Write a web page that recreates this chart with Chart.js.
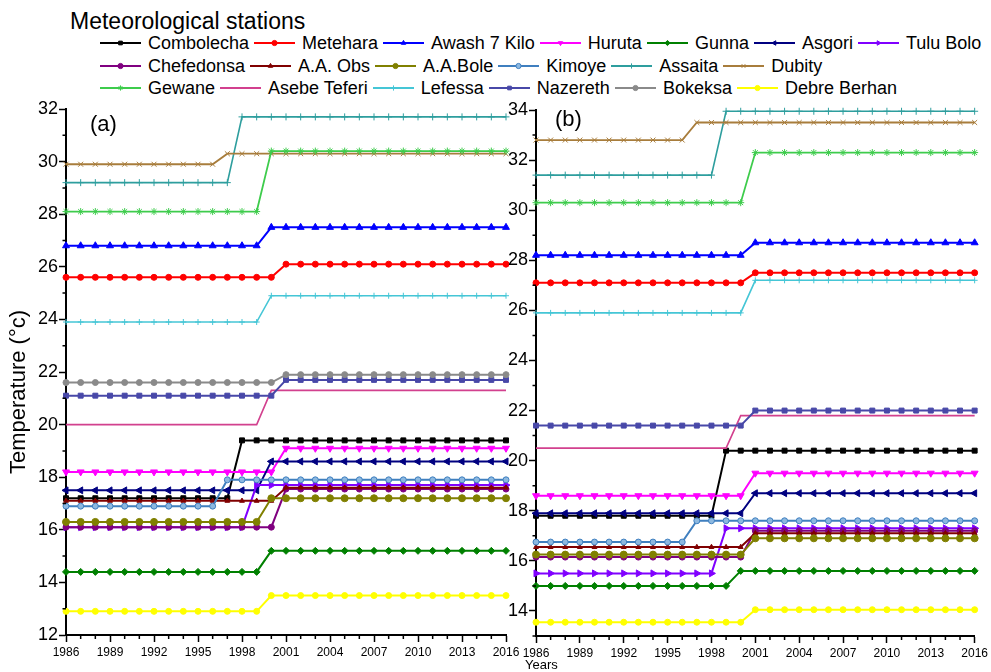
<!DOCTYPE html>
<html>
<head>
<meta charset="utf-8">
<script src="https://cdn.jsdelivr.net/npm/chart.js@4.4.0/dist/chart.umd.min.js"></script>
<style>
  html, body { margin: 0; padding: 0; background: #fff; }
  body { width: 991px; height: 672px; position: relative; overflow: hidden;
         font-family: "Liberation Sans", Arial, sans-serif; color: #000; }
  #legendTitle { position: absolute; left: 70px; top: 10px; font-size: 23px; line-height: 23px; white-space: nowrap; }
  .lrow { position: absolute; left: 100px; display: flex; align-items: center; height: 22.5px;
          font-size: 18px; line-height: 22.5px; white-space: nowrap; }
  .litem { display: flex; align-items: center; margin-right: 5px; }
  .litem canvas { margin-right: 7px; display: block; }
  #chartA { position: absolute; left: 0; top: 0; }
  #chartB { position: absolute; left: 500px; top: 0; }
</style>
</head>
<body>
<div id="legendTitle">Meteorological stations</div>
<div id="legend"></div>
<canvas id="chartA" width="530" height="672"></canvas>
<canvas id="chartB" width="491" height="672"></canvas>
<script>
// Years on the x axis
const years = [1986,1987,1988,1989,1990,1991,1992,1993,1994,1995,
               1996,1997,1998,1999,2000,2001,2002,2003,2004,2005,
               2006,2007,2008,2009,2010,2011,2012,2013,2014,2015,2016];

const stations = ['Combolecha','Metehara','Awash 7 Kilo','Huruta','Gunna','Asgori','Tulu Bolo',
                  'Chefedonsa','A.A. Obs','A.A.Bole','Kimoye','Assaita','Dubity',
                  'Gewane','Asebe Teferi','Lefessa','Nazereth','Bokeksa','Debre Berhan'];

// Panel (a) temperatures, °C
const combolechaA  = [17.2,17.2,17.2,17.2,17.2,17.2,17.2,17.2,17.2,17.2, 17.2,17.2,19.4,19.4,19.4,19.4,19.4,19.4,19.4,19.4, 19.4,19.4,19.4,19.4,19.4,19.4,19.4,19.4,19.4,19.4,19.4];
const meteharaA    = [25.6,25.6,25.6,25.6,25.6,25.6,25.6,25.6,25.6,25.6, 25.6,25.6,25.6,25.6,25.6,26.1,26.1,26.1,26.1,26.1, 26.1,26.1,26.1,26.1,26.1,26.1,26.1,26.1,26.1,26.1,26.1];
const awashA       = [26.8,26.8,26.8,26.8,26.8,26.8,26.8,26.8,26.8,26.8, 26.8,26.8,26.8,26.8,27.5,27.5,27.5,27.5,27.5,27.5, 27.5,27.5,27.5,27.5,27.5,27.5,27.5,27.5,27.5,27.5,27.5];
const hurutaA      = [18.2,18.2,18.2,18.2,18.2,18.2,18.2,18.2,18.2,18.2, 18.2,18.2,18.2,18.2,18.2,19.1,19.1,19.1,19.1,19.1, 19.1,19.1,19.1,19.1,19.1,19.1,19.1,19.1,19.1,19.1,19.1];
const gunnaA       = [14.4,14.4,14.4,14.4,14.4,14.4,14.4,14.4,14.4,14.4, 14.4,14.4,14.4,14.4,15.2,15.2,15.2,15.2,15.2,15.2, 15.2,15.2,15.2,15.2,15.2,15.2,15.2,15.2,15.2,15.2,15.2];
const asgoriA      = [17.5,17.5,17.5,17.5,17.5,17.5,17.5,17.5,17.5,17.5, 17.5,17.5,17.5,17.5,18.6,18.6,18.6,18.6,18.6,18.6, 18.6,18.6,18.6,18.6,18.6,18.6,18.6,18.6,18.6,18.6,18.6];
const tuluBoloA    = [16.1,16.1,16.1,16.1,16.1,16.1,16.1,16.1,16.1,16.1, 16.1,16.1,16.1,17.7,17.7,17.7,17.7,17.7,17.7,17.7, 17.7,17.7,17.7,17.7,17.7,17.7,17.7,17.7,17.7,17.7,17.7];
const chefedonsaA  = [16.1,16.1,16.1,16.1,16.1,16.1,16.1,16.1,16.1,16.1, 16.1,16.1,16.1,16.1,16.1,17.55,17.55,17.55,17.55,17.55, 17.55,17.55,17.55,17.55,17.55,17.55,17.55,17.55,17.55,17.55,17.55];
const aaObsA       = [17.1,17.1,17.1,17.1,17.1,17.1,17.1,17.1,17.1,17.1, 17.1,17.1,17.1,17.1,17.1,17.6,17.6,17.6,17.6,17.6, 17.6,17.6,17.6,17.6,17.6,17.6,17.6,17.6,17.6,17.6,17.6];
const aaBoleA      = [16.3,16.3,16.3,16.3,16.3,16.3,16.3,16.3,16.3,16.3, 16.3,16.3,16.3,16.3,17.2,17.2,17.2,17.2,17.2,17.2, 17.2,17.2,17.2,17.2,17.2,17.2,17.2,17.2,17.2,17.2,17.2];
const kimoyeA      = [16.9,16.9,16.9,16.9,16.9,16.9,16.9,16.9,16.9,16.9, 16.9,17.9,17.9,17.9,17.9,17.9,17.9,17.9,17.9,17.9, 17.9,17.9,17.9,17.9,17.9,17.9,17.9,17.9,17.9,17.9,17.9];
const assaitaA     = [29.2,29.2,29.2,29.2,29.2,29.2,29.2,29.2,29.2,29.2, 29.2,29.2,31.7,31.7,31.7,31.7,31.7,31.7,31.7,31.7, 31.7,31.7,31.7,31.7,31.7,31.7,31.7,31.7,31.7,31.7,31.7];
const dubityA      = [29.9,29.9,29.9,29.9,29.9,29.9,29.9,29.9,29.9,29.9, 29.9,30.3,30.3,30.3,30.3,30.3,30.3,30.3,30.3,30.3, 30.3,30.3,30.3,30.3,30.3,30.3,30.3,30.3,30.3,30.3,30.3];
const gewaneA      = [28.1,28.1,28.1,28.1,28.1,28.1,28.1,28.1,28.1,28.1, 28.1,28.1,28.1,28.1,30.4,30.4,30.4,30.4,30.4,30.4, 30.4,30.4,30.4,30.4,30.4,30.4,30.4,30.4,30.4,30.4,30.4];
const asebeTeferiA = [20.0,20.0,20.0,20.0,20.0,20.0,20.0,20.0,20.0,20.0, 20.0,20.0,20.0,20.0,21.3,21.3,21.3,21.3,21.3,21.3, 21.3,21.3,21.3,21.3,21.3,21.3,21.3,21.3,21.3,21.3,21.3];
const lefessaA     = [23.9,23.9,23.9,23.9,23.9,23.9,23.9,23.9,23.9,23.9, 23.9,23.9,23.9,23.9,24.9,24.9,24.9,24.9,24.9,24.9, 24.9,24.9,24.9,24.9,24.9,24.9,24.9,24.9,24.9,24.9,24.9];
const nazerethA    = [21.1,21.1,21.1,21.1,21.1,21.1,21.1,21.1,21.1,21.1, 21.1,21.1,21.1,21.1,21.1,21.7,21.7,21.7,21.7,21.7, 21.7,21.7,21.7,21.7,21.7,21.7,21.7,21.7,21.7,21.7,21.7];
const bokeksaA     = [21.6,21.6,21.6,21.6,21.6,21.6,21.6,21.6,21.6,21.6, 21.6,21.6,21.6,21.6,21.6,21.9,21.9,21.9,21.9,21.9, 21.9,21.9,21.9,21.9,21.9,21.9,21.9,21.9,21.9,21.9,21.9];
const debreBerhanA = [12.9,12.9,12.9,12.9,12.9,12.9,12.9,12.9,12.9,12.9, 12.9,12.9,12.9,12.9,13.5,13.5,13.5,13.5,13.5,13.5, 13.5,13.5,13.5,13.5,13.5,13.5,13.5,13.5,13.5,13.5,13.5];

// Panel (b) temperatures, °C
const combolechaB  = [17.8,17.8,17.8,17.8,17.8,17.8,17.8,17.8,17.8,17.8, 17.8,17.8,17.8,20.4,20.4,20.4,20.4,20.4,20.4,20.4, 20.4,20.4,20.4,20.4,20.4,20.4,20.4,20.4,20.4,20.4,20.4];
const meteharaB    = [27.1,27.1,27.1,27.1,27.1,27.1,27.1,27.1,27.1,27.1, 27.1,27.1,27.1,27.1,27.1,27.5,27.5,27.5,27.5,27.5, 27.5,27.5,27.5,27.5,27.5,27.5,27.5,27.5,27.5,27.5,27.5];
const awashB       = [28.2,28.2,28.2,28.2,28.2,28.2,28.2,28.2,28.2,28.2, 28.2,28.2,28.2,28.2,28.2,28.7,28.7,28.7,28.7,28.7, 28.7,28.7,28.7,28.7,28.7,28.7,28.7,28.7,28.7,28.7,28.7];
const hurutaB      = [18.6,18.6,18.6,18.6,18.6,18.6,18.6,18.6,18.6,18.6, 18.6,18.6,18.6,18.6,18.6,19.5,19.5,19.5,19.5,19.5, 19.5,19.5,19.5,19.5,19.5,19.5,19.5,19.5,19.5,19.5,19.5];
const gunnaB       = [15.0,15.0,15.0,15.0,15.0,15.0,15.0,15.0,15.0,15.0, 15.0,15.0,15.0,15.0,15.6,15.6,15.6,15.6,15.6,15.6, 15.6,15.6,15.6,15.6,15.6,15.6,15.6,15.6,15.6,15.6,15.6];
const asgoriB      = [17.9,17.9,17.9,17.9,17.9,17.9,17.9,17.9,17.9,17.9, 17.9,17.9,17.9,17.9,17.9,18.7,18.7,18.7,18.7,18.7, 18.7,18.7,18.7,18.7,18.7,18.7,18.7,18.7,18.7,18.7,18.7];
const tuluBoloB    = [15.5,15.5,15.5,15.5,15.5,15.5,15.5,15.5,15.5,15.5, 15.5,15.5,15.5,17.3,17.3,17.3,17.3,17.3,17.3,17.3, 17.3,17.3,17.3,17.3,17.3,17.3,17.3,17.3,17.3,17.3,17.3];
const chefedonsaB  = [16.15,16.15,16.15,16.15,16.15,16.15,16.15,16.15,16.15,16.15, 16.15,16.15,16.15,16.15,16.15,17.2,17.2,17.2,17.2,17.2, 17.2,17.2,17.2,17.2,17.2,17.2,17.2,17.2,17.2,17.2,17.2];
const aaObsB       = [16.55,16.55,16.55,16.55,16.55,16.55,16.55,16.55,16.55,16.55, 16.55,16.55,16.55,16.55,16.55,17.1,17.1,17.1,17.1,17.1, 17.1,17.1,17.1,17.1,17.1,17.1,17.1,17.1,17.1,17.1,17.1];
const aaBoleB      = [16.25,16.25,16.25,16.25,16.25,16.25,16.25,16.25,16.25,16.25, 16.25,16.25,16.25,16.25,16.25,16.9,16.9,16.9,16.9,16.9, 16.9,16.9,16.9,16.9,16.9,16.9,16.9,16.9,16.9,16.9,16.9];
const kimoyeB      = [16.75,16.75,16.75,16.75,16.75,16.75,16.75,16.75,16.75,16.75, 16.75,17.6,17.6,17.6,17.6,17.6,17.6,17.6,17.6,17.6, 17.6,17.6,17.6,17.6,17.6,17.6,17.6,17.6,17.6,17.6,17.6];
const assaitaB     = [31.4,31.4,31.4,31.4,31.4,31.4,31.4,31.4,31.4,31.4, 31.4,31.4,31.4,33.95,33.95,33.95,33.95,33.95,33.95,33.95, 33.95,33.95,33.95,33.95,33.95,33.95,33.95,33.95,33.95,33.95,33.95];
const dubityB      = [32.8,32.8,32.8,32.8,32.8,32.8,32.8,32.8,32.8,32.8, 32.8,33.5,33.5,33.5,33.5,33.5,33.5,33.5,33.5,33.5, 33.5,33.5,33.5,33.5,33.5,33.5,33.5,33.5,33.5,33.5,33.5];
const gewaneB      = [30.3,30.3,30.3,30.3,30.3,30.3,30.3,30.3,30.3,30.3, 30.3,30.3,30.3,30.3,30.3,32.3,32.3,32.3,32.3,32.3, 32.3,32.3,32.3,32.3,32.3,32.3,32.3,32.3,32.3,32.3,32.3];
const asebeTeferiB = [20.5,20.5,20.5,20.5,20.5,20.5,20.5,20.5,20.5,20.5, 20.5,20.5,20.5,20.5,21.8,21.8,21.8,21.8,21.8,21.8, 21.8,21.8,21.8,21.8,21.8,21.8,21.8,21.8,21.8,21.8,21.8];
const lefessaB     = [25.9,25.9,25.9,25.9,25.9,25.9,25.9,25.9,25.9,25.9, 25.9,25.9,25.9,25.9,25.9,27.2,27.2,27.2,27.2,27.2, 27.2,27.2,27.2,27.2,27.2,27.2,27.2,27.2,27.2,27.2,27.2];
const nazerethB    = [21.4,21.4,21.4,21.4,21.4,21.4,21.4,21.4,21.4,21.4, 21.4,21.4,21.4,21.4,21.4,22.0,22.0,22.0,22.0,22.0, 22.0,22.0,22.0,22.0,22.0,22.0,22.0,22.0,22.0,22.0,22.0];
const bokeksaB     = null; // no record in panel (b)
const debreBerhanB = [13.55,13.55,13.55,13.55,13.55,13.55,13.55,13.55,13.55,13.55, 13.55,13.55,13.55,13.55,13.55,14.05,14.05,14.05,14.05,14.05, 14.05,14.05,14.05,14.05,14.05,14.05,14.05,14.05,14.05,14.05,14.05];

const seriesA = [combolechaA, meteharaA, awashA, hurutaA, gunnaA, asgoriA, tuluBoloA,
                 chefedonsaA, aaObsA, aaBoleA, kimoyeA, assaitaA, dubityA,
                 gewaneA, asebeTeferiA, lefessaA, nazerethA, bokeksaA, debreBerhanA];
const seriesB = [combolechaB, meteharaB, awashB, hurutaB, gunnaB, asgoriB, tuluBoloB,
                 chefedonsaB, aaObsB, aaBoleB, kimoyeB, assaitaB, dubityB,
                 gewaneB, asebeTeferiB, lefessaB, nazerethB, bokeksaB, debreBerhanB];

// Line / marker styling per station
const lineColors = ['#000000','#FF0000','#0000FF','#FF00FF','#008000','#000080','#8000FF',
                    '#800080','#800000','#808000','#3F7FBF','#2E9E9E','#A87D3C',
                    '#3ECC4C','#D2408E','#45C6D6','#4848A8','#8A8A8A','#FFFF00'];
const markerFills = ['#000000','#FF0000','#0000FF','#FF00FF','#008000','#000080','#8000FF',
                     '#800080','#800000','#808000','#8CB8E0','#2E9E9E','#A87D3C',
                     '#3ECC4C','#D2408E','#45C6D6','#4848A8','#8A8A8A','#FFFF00'];
const markerStyles = ['rect','circle','triangle','triangle','rectRot','triangle','triangle',
                      'circle','triangle','circle','circle','cross','crossRot',
                      'star','circle','cross','rect','circle','circle'];
const markerRotations = [0,0,0,180,0,270,90, 0,0,0,0,0,0, 0,0,0,0,0,0];
const markerRadii = [3.5,3,4,4,3.5,4,4, 3,2.8,3.5,3,3.5,3.5, 3.5,0,3,3.5,3,3];
const lineWidths = [2,2,2,2,2,2,2, 2,2,2,2,1.6,1.8, 1.8,1.6,1.6,2,2,2];

const FONT = "'Liberation Sans', Arial, sans-serif";
Chart.defaults.font.family = FONT;
Chart.defaults.color = '#000';

function buildDatasets(series) {
  const out = [];
  stations.forEach((name, i) => {
    if (!series[i]) return;
    out.push({
      label: name,
      data: series[i],
      borderColor: lineColors[i],
      backgroundColor: markerFills[i],
      borderWidth: lineWidths[i],
      pointStyle: markerStyles[i],
      pointRotation: markerRotations[i],
      pointRadius: markerRadii[i],
      pointHoverRadius: markerRadii[i],
      pointBorderWidth: 1,
      pointBorderColor: lineColors[i],
      pointBackgroundColor: markerFills[i],
      tension: 0,
      clip: false,
      order: stations.length - i
    });
  });
  return out;
}

// Major ticks are drawn by the scale; minor (unlabelled) ticks get a shorter mark
const majorTickColor = ctx => (ctx.tick && ctx.tick.label !== '' ? '#000' : 'rgba(0,0,0,0)');

const minorTicks = {
  id: 'minorTicks',
  afterDraw(chart) {
    const { ctx } = chart;
    const xs = chart.scales.x, ys = chart.scales.y;
    ctx.save();
    ctx.strokeStyle = '#000';
    ctx.lineWidth = 1.5;
    ctx.beginPath();
    xs.ticks.forEach((t, i) => {
      if (t.label === '') {
        const px = xs.getPixelForTick(i);
        ctx.moveTo(px, xs.top); ctx.lineTo(px, xs.top + 4);
      }
    });
    ys.ticks.forEach((t, i) => {
      if (t.label === '') {
        const py = ys.getPixelForTick(i);
        ctx.moveTo(ys.right - 3.5, py); ctx.lineTo(ys.right, py);
      }
    });
    ctx.stroke();
    ctx.restore();
  }
};

// Panel letter, plus optional rotated y title and x title
function annotations(letter, dx, dy, yTitle, xTitle) {
  return {
    id: 'annotations' + letter,
    afterDraw(chart) {
      const { ctx, chartArea } = chart;
      ctx.save();
      ctx.fillStyle = '#000';
      ctx.font = '22px ' + FONT;
      ctx.textAlign = 'left';
      ctx.textBaseline = 'top';
      ctx.fillText(letter, chartArea.left + dx, chartArea.top + dy);
      if (yTitle) {
        ctx.save();
        ctx.translate(chartArea.left - 47, (chartArea.top + chartArea.bottom) / 2 + 20);
        ctx.rotate(-Math.PI / 2);
        ctx.textAlign = 'center';
        ctx.textBaseline = 'middle';
        ctx.font = '22px ' + FONT;
        ctx.fillText(yTitle, 0, 0);
        ctx.restore();
      }
      if (xTitle) {
        ctx.font = '13px ' + FONT;
        ctx.textAlign = 'left';
        ctx.textBaseline = 'alphabetic';
        ctx.fillText(xTitle, chartArea.left - 11, chartArea.bottom + 33);
      }
      ctx.restore();
    }
  };
}

function panelOptions(yMin, yMax, pad, yWidth, xHeight) {
  return {
    responsive: false,
    animation: false,
    layout: { padding: pad },
    plugins: { legend: { display: false }, tooltip: { enabled: false } },
    scales: {
      x: {
        type: 'category',
        offset: false,
        grid: { drawOnChartArea: false, tickLength: 7, tickWidth: 1.5, tickColor: majorTickColor },
        border: { color: '#000', width: 2 },
        ticks: {
          autoSkip: false, maxRotation: 0, minRotation: 0, padding: 3,
          font: { size: 12, family: FONT }, color: '#000',
          callback: (v, i) => (i % 3 === 0 ? String(years[i]) : '')
        },
        afterFit: s => { s.height = xHeight; }
      },
      y: {
        min: yMin, max: yMax,
        grid: { drawOnChartArea: false, tickLength: 7, tickWidth: 1.5, tickColor: majorTickColor },
        border: { color: '#000', width: 2 },
        ticks: {
          stepSize: 1, autoSkip: false, padding: 1,
          font: { size: 18, family: FONT }, color: '#000',
          callback: v => (v % 2 === 0 ? String(v) : '')
        },
        afterFit: s => { s.width = yWidth; }
      }
    }
  };
}

new Chart(document.getElementById('chartA'), {
  type: 'line',
  data: { labels: years, datasets: buildDatasets(seriesA) },
  options: panelOptions(12, 32, { left: 0, top: 109, right: 24, bottom: 0 }, 66, 37),
  plugins: [minorTicks, annotations('(a)', 24, 5, 'Temperature (°c)', null)]
});

new Chart(document.getElementById('chartB'), {
  type: 'line',
  data: { labels: years, datasets: buildDatasets(seriesB) },
  options: panelOptions(13, 34, { left: 0, top: 110, right: 15, bottom: 0 }, 36, 36),
  plugins: [minorTicks, annotations('(b)', 19, -1, null, 'Years')]
});

// Legend: three rows of line-and-marker samples
const legendRows = [[0,1,2,3,4,5,6],[7,8,9,10,11,12],[13,14,15,16,17,18]];
const legendTops = [32, 54.5, 77];
const legendEl = document.getElementById('legend');
legendRows.forEach((row, r) => {
  const rowEl = document.createElement('div');
  rowEl.className = 'lrow';
  rowEl.style.top = legendTops[r] + 'px';
  row.forEach(i => {
    const item = document.createElement('div');
    item.className = 'litem';
    const c = document.createElement('canvas');
    c.width = 41; c.height = 12;
    const g = c.getContext('2d');
    g.strokeStyle = lineColors[i];
    g.lineWidth = 2;
    g.beginPath(); g.moveTo(0, 6); g.lineTo(41, 6); g.stroke();
    if (markerRadii[i] > 0 && Chart.helpers && Chart.helpers.drawPoint) {
      g.fillStyle = markerFills[i];
      g.strokeStyle = lineColors[i];
      g.lineWidth = 1;
      Chart.helpers.drawPoint(g, {
        pointStyle: markerStyles[i], rotation: markerRotations[i],
        radius: Math.min(markerRadii[i], 2.6), borderWidth: 1
      }, 20.5, 6);
    }
    const label = document.createElement('span');
    label.textContent = stations[i];
    item.appendChild(c);
    item.appendChild(label);
    rowEl.appendChild(item);
  });
  legendEl.appendChild(rowEl);
});
</script>
</body>
</html>
